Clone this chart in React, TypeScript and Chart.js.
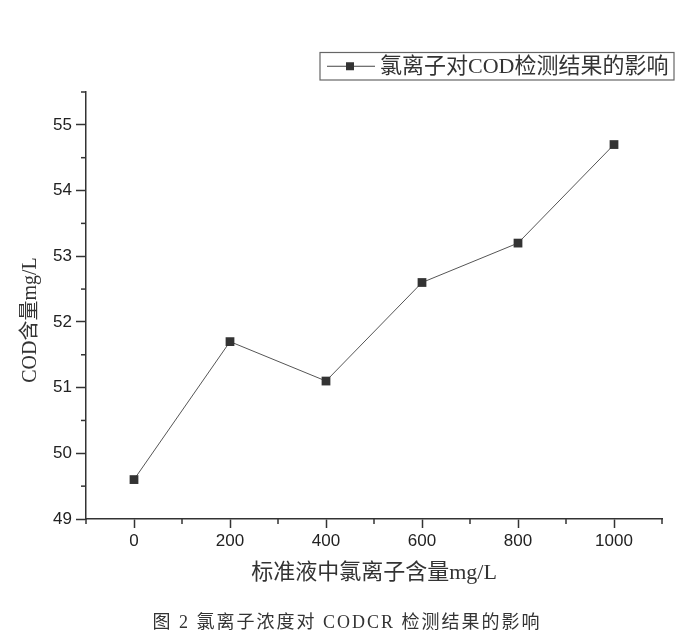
import React, { useEffect, useRef } from "react";
import { Chart, registerables } from "chart.js";

Chart.register(...registerables);

const chlorideLevels = [0, 200, 400, 600, 800, 1000];
const codValues = [49.6, 51.7, 51.1, 52.6, 53.2, 54.7];
const seriesLabel = "氯离子对COD检测结果的影响";
const xTitle = "标准液中氯离子含量mg/L";
const yTitle = "COD含量mg/L";
const caption = "图 2 氯离子浓度对 CODCR 检测结果的影响";
const xMin = -100;
const xMax = 1100;
const yMin = 49;
const yMax = 55.5;

const SERIF = '"Liberation Serif", "Noto Sans CJK SC", serif';
const SANS = '"Liberation Sans", Arial, sans-serif';
const AXIS = "#333";

const isInt = (v: number) => Math.abs(v - Math.round(v)) < 1e-6;

const decorPlugin = {
  id: "decor",
  afterDraw(chart: any) {
    const { ctx, chartArea, scales } = chart;
    const xs = scales.x;
    const ys = scales.y;
    ctx.save();
    // minor ticks
    ctx.strokeStyle = AXIS;
    ctx.lineWidth = 1.5;
    for (let v = xMin; v <= xMax + 1e-6; v += 200) {
      const px = xs.getPixelForValue(v);
      ctx.beginPath();
      ctx.moveTo(px, chartArea.bottom);
      ctx.lineTo(px, chartArea.bottom + 5);
      ctx.stroke();
    }
    for (let v = yMin + 0.5; v <= yMax + 1e-6; v += 1) {
      const py = ys.getPixelForValue(v);
      ctx.beginPath();
      ctx.moveTo(chartArea.left - 5, py);
      ctx.lineTo(chartArea.left, py);
      ctx.stroke();
    }
    // axis titles
    ctx.fillStyle = "#333";
    ctx.textAlign = "center";
    ctx.textBaseline = "middle";
    ctx.font = `22px ${SERIF}`;
    ctx.fillText(xTitle, (chartArea.left + chartArea.right) / 2, 573);
    ctx.save();
    ctx.translate(31, 320);
    ctx.rotate(-Math.PI / 2);
    ctx.font = `20px ${SERIF}`;
    ctx.fillText(yTitle, 0, 0);
    ctx.restore();
    // legend
    const lx = 320, ly = 52.5, lw = 354, lh = 27.5;
    ctx.strokeStyle = "#666";
    ctx.lineWidth = 1.2;
    ctx.strokeRect(lx, ly, lw, lh);
    const cy = ly + lh / 2;
    ctx.strokeStyle = "#444";
    ctx.lineWidth = 1;
    ctx.beginPath();
    ctx.moveTo(327, cy);
    ctx.lineTo(375, cy);
    ctx.stroke();
    ctx.fillStyle = "#333";
    ctx.fillRect(346, cy - 4, 8, 8);
    ctx.font = `22px ${SERIF}`;
    ctx.textAlign = "left";
    ctx.fillText(seriesLabel, 380, cy + 1);
    // caption
    ctx.font = `18px ${SERIF}`;
    ctx.textAlign = "center";
    (ctx as any).letterSpacing = "2px";
    ctx.fillText(caption, 347, 623);
    ctx.restore();
  },
};

export default function App() {
  const ref = useRef<HTMLCanvasElement | null>(null);
  useEffect(() => {
    if (!ref.current) return;
    const chart = new Chart(ref.current, {
      type: "line",
      data: {
        datasets: [
          {
            label: seriesLabel,
            data: chlorideLevels.map((x, i) => ({ x, y: codValues[i] })),
            borderColor: "#555",
            borderWidth: 1,
            backgroundColor: "#333",
            pointStyle: "rect",
            pointRadius: 6.2,
            pointBorderWidth: 0,
            pointBackgroundColor: "#333",
            tension: 0,
          },
        ],
      },
      options: {
        animation: false,
        responsive: true,
        maintainAspectRatio: false,
        layout: { padding: { top: 92, right: 38, left: 0, bottom: 0 } },
        plugins: { legend: { display: false }, tooltip: { enabled: false } },
        scales: {
          x: {
            type: "linear",
            min: xMin,
            max: xMax,
            afterFit: (s: any) => {
              s.height = 120;
            },
            ticks: {
              stepSize: 100,
              autoSkip: false,
              maxRotation: 0,
              padding: 3,
              color: "#222",
              font: { family: SANS, size: 17 },
              callback: (v: any) => (Number(v) % 200 === 0 && v >= 0 && v <= 1000 ? String(v) : ""),
            },
            grid: {
              drawOnChartArea: false,
              tickLength: 9,
              tickWidth: 1.5,
              tickColor: (c: any) => (c.tick && c.tick.value % 200 === 0 ? AXIS : "transparent"),
            },
            border: { display: true, color: AXIS, width: 1.5 },
          },
          y: {
            type: "linear",
            min: yMin,
            max: yMax,
            afterFit: (s: any) => {
              s.width = 86;
            },
            ticks: {
              stepSize: 0.5,
              autoSkip: false,
              padding: 4,
              color: "#222",
              font: { family: SANS, size: 17 },
              callback: (v: any) => (isInt(Number(v)) ? String(Math.round(Number(v))) : ""),
            },
            grid: {
              drawOnChartArea: false,
              tickLength: 10,
              tickWidth: 1.5,
              tickColor: (c: any) => (c.tick && isInt(c.tick.value) ? AXIS : "transparent"),
            },
            border: { display: true, color: AXIS, width: 1.5 },
          },
        },
      },
      plugins: [decorPlugin],
    });
    return () => chart.destroy();
  }, []);
  return (
    <div style={{ position: "absolute", left: 0, top: 0, width: 700, height: 639, background: "#fff" }}>
      <canvas ref={ref} />
    </div>
  );
}
